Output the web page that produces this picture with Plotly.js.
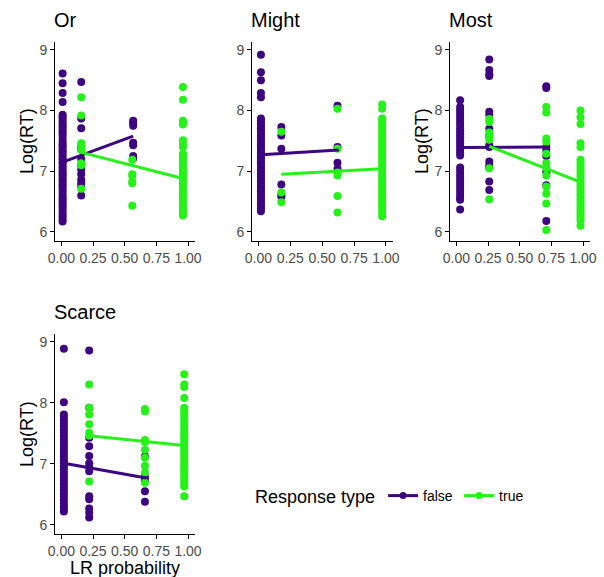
<!DOCTYPE html>
<html>
<head>
<meta charset="utf-8">
<script src="https://cdn.plot.ly/plotly-3.0.1.min.js"></script>
<style>html,body{margin:0;padding:0;background:#fff;}#chart{width:604px;height:577px;}</style>
</head>
<body>
<div id="chart"></div>
<script>
// ---------- data ----------
const panels = ["Or", "Might", "Most", "Scarce"];
const xTickVals = [0, 0.25, 0.5, 0.75, 1];
const xTickText = ["0.00", "0.25", "0.50", "0.75", "1.00"];
const yTickVals = [6, 7, 8, 9];
const responseTypes = ["false", "true"];

// Or
const or_false_x = [0.01, 0.157, 0.567];
const or_false_y = [
  [8.61, 8.45, 8.29, 8.14, 7.93, 7.9, 7.86, 7.82, 7.78, 7.74, 7.7, 7.66, 7.62, 7.58, 7.53, 7.48, 7.44, 7.41, 7.37, 7.33, 7.3, 7.26, 7.22, 7.19, 7.15, 7.12, 7.08, 7.04, 7.0, 6.96, 6.93, 6.89, 6.85, 6.81, 6.77, 6.73, 6.69, 6.65, 6.6, 6.56, 6.52, 6.48, 6.44, 6.4, 6.35, 6.3, 6.26, 6.21, 6.17],
  [8.47, 7.87, 7.71, 7.41, 7.36, 7.2, 7.1, 7.03, 6.95, 6.86, 6.8, 6.75, 6.6],
  [7.83, 7.79, 7.75, 7.47, 7.43, 7.25, 7.21]
];
const or_true_x = [0.157, 0.56, 0.96];
const or_true_y = [
  [8.22, 7.92, 7.46, 7.42, 7.35, 7.13, 7.1, 6.71],
  [7.19, 6.95, 6.92, 6.83, 6.8, 6.43],
  [8.39, 8.18, 7.83, 7.8, 7.77, 7.51, 7.45, 7.4, 7.29, 7.24, 7.2, 7.15, 7.1, 7.05, 7.0, 6.95, 6.9, 6.85, 6.8, 6.75, 6.7, 6.65, 6.6, 6.55, 6.5, 6.45, 6.4, 6.36, 6.32, 6.27]
];
const or_fit_false_x = [0.01, 0.567], or_fit_false_y = [7.15, 7.58];
const or_fit_true_x = [0.157, 0.96], or_fit_true_y = [7.31, 6.88];

// Might
const might_false_x = [0.02, 0.18, 0.62];
const might_false_y = [
  [8.92, 8.63, 8.5, 8.29, 8.22, 7.87, 7.83, 7.79, 7.75, 7.71, 7.67, 7.63, 7.59, 7.55, 7.51, 7.47, 7.43, 7.39, 7.35, 7.31, 7.27, 7.23, 7.19, 7.15, 7.11, 7.07, 7.03, 6.99, 6.95, 6.91, 6.87, 6.83, 6.79, 6.75, 6.71, 6.67, 6.63, 6.59, 6.55, 6.51, 6.47, 6.43, 6.39, 6.34],
  [7.73, 7.59, 7.37, 6.78, 6.61, 6.58],
  [8.08, 7.4, 7.14, 7.04, 6.99]
];
const might_true_x = [0.18, 0.62, 0.97];
const might_true_y = [
  [7.65, 6.65, 6.49],
  [8.03, 7.37, 6.98, 6.93, 6.59, 6.32],
  [8.1, 8.03, 7.87, 7.82, 7.77, 7.72, 7.67, 7.62, 7.57, 7.52, 7.47, 7.42, 7.37, 7.32, 7.27, 7.22, 7.17, 7.12, 7.07, 7.02, 6.97, 6.92, 6.87, 6.82, 6.77, 6.72, 6.67, 6.62, 6.57, 6.52, 6.47, 6.42, 6.37, 6.32, 6.26]
];
const might_fit_false_x = [0.02, 0.63], might_fit_false_y = [7.27, 7.35];
const might_fit_true_x = [0.18, 0.97], might_fit_true_y = [6.95, 7.04];

// Most
const most_false_x = [0.03, 0.26, 0.71];
const most_false_y = [
  [8.17, 8.06, 8.01, 7.96, 7.91, 7.86, 7.81, 7.76, 7.71, 7.66, 7.61, 7.56, 7.51, 7.46, 7.41, 7.36, 7.31, 7.26, 7.06, 7.01, 6.96, 6.91, 6.86, 6.81, 6.76, 6.71, 6.66, 6.61, 6.56, 6.53, 6.37],
  [8.84, 8.67, 8.6, 8.57, 7.98, 7.93, 7.7, 7.58, 7.43, 7.4, 7.16, 7.1, 7.06, 6.83, 6.69],
  [8.4, 8.37, 7.4, 7.35, 7.25, 6.99, 6.77, 6.18]
];
const most_true_x = [0.26, 0.71, 0.98];
const most_true_y = [
  [7.86, 7.81, 7.64, 7.59, 7.52, 7.05, 6.54],
  [8.06, 7.97, 7.54, 7.48, 7.29, 7.13, 7.05, 6.93, 6.75, 6.63, 6.47, 6.03],
  [8.0, 7.89, 7.78, 7.46, 7.4, 7.19, 7.14, 7.09, 7.04, 6.99, 6.94, 6.89, 6.84, 6.79, 6.74, 6.69, 6.64, 6.59, 6.54, 6.49, 6.44, 6.39, 6.34, 6.29, 6.24, 6.19, 6.1]
];
const most_fit_false_x = [0.03, 0.72], most_fit_false_y = [7.39, 7.40];
const most_fit_true_x = [0.26, 0.98], most_fit_true_y = [7.41, 6.82];

// Scarce
const scarce_false_x = [0.02, 0.22, 0.66];
const scarce_false_y = [
  [8.89, 8.01, 7.81, 7.76, 7.71, 7.66, 7.61, 7.56, 7.51, 7.46, 7.41, 7.36, 7.31, 7.26, 7.21, 7.16, 7.11, 7.06, 7.01, 6.96, 6.91, 6.86, 6.81, 6.76, 6.71, 6.66, 6.61, 6.56, 6.51, 6.46, 6.41, 6.36, 6.31, 6.26, 6.22],
  [8.86, 7.92, 7.43, 7.29, 7.13, 7.01, 6.95, 6.88, 6.47, 6.42, 6.27, 6.2, 6.12],
  [7.12, 6.79, 6.73, 6.55, 6.38]
];
const scarce_true_x = [0.22, 0.66, 0.97];
const scarce_true_y = [
  [8.3, 7.92, 7.81, 7.65, 7.51, 7.46, 6.71],
  [7.9, 7.86, 7.39, 7.36, 7.23, 7.1, 6.97, 6.86, 6.69],
  [8.47, 8.3, 8.26, 8.08, 7.92, 7.87, 7.82, 7.77, 7.72, 7.67, 7.62, 7.57, 7.52, 7.47, 7.42, 7.37, 7.32, 7.27, 7.22, 7.17, 7.12, 7.07, 7.02, 6.97, 6.92, 6.87, 6.82, 6.77, 6.72, 6.67, 6.63, 6.47]
];
const scarce_fit_false_x = [0.02, 0.67], scarce_fit_false_y = [7.01, 6.77];
const scarce_fit_true_x = [0.22, 0.97], scarce_fit_true_y = [7.46, 7.3];

// ---------- styling ----------
const COLORS = {"false": "#3E0580", "true": "#26F21A"};
const FONT = "Liberation Sans, Arial, sans-serif";

const panelData = [
  {fx: or_false_x, fy: or_false_y, tx: or_true_x, ty: or_true_y, lf: [or_fit_false_x, or_fit_false_y], lt: [or_fit_true_x, or_fit_true_y]},
  {fx: might_false_x, fy: might_false_y, tx: might_true_x, ty: might_true_y, lf: [might_fit_false_x, might_fit_false_y], lt: [might_fit_true_x, might_fit_true_y]},
  {fx: most_false_x, fy: most_false_y, tx: most_true_x, ty: most_true_y, lf: [most_fit_false_x, most_fit_false_y], lt: [most_fit_true_x, most_fit_true_y]},
  {fx: scarce_false_x, fy: scarce_false_y, tx: scarce_true_x, ty: scarce_true_y, lf: [scarce_fit_false_x, scarce_fit_false_y], lt: [scarce_fit_true_x, scarce_fit_true_y]}
];

function flatten(xs, ys) {
  const X = [], Y = [];
  xs.forEach((x, i) => ys[i].forEach(y => { X.push(x); Y.push(y); }));
  return {X, Y};
}

const W = 604, H = 577;
// pixel boxes of the panels [left, right, top, bottom]
const boxes = [[55, 195, 42, 241], [252, 393, 42, 241], [450, 590, 42, 241], [55, 195, 334, 534]];

const traces = [];
panelData.forEach((p, i) => {
  const sfx = i === 0 ? "" : String(i + 1);
  const xa = "x" + sfx, ya = "y" + sfx;
  const f = flatten(p.fx, p.fy), t = flatten(p.tx, p.ty);
  traces.push({x: f.X, y: f.Y, xaxis: xa, yaxis: ya, type: "scatter", mode: "markers",
    marker: {color: COLORS["false"], size: 8}, showlegend: false, hoverinfo: "skip"});
  traces.push({x: t.X, y: t.Y, xaxis: xa, yaxis: ya, type: "scatter", mode: "markers",
    marker: {color: COLORS["true"], size: 8}, showlegend: false, hoverinfo: "skip"});
  traces.push({x: p.lf[0], y: p.lf[1], xaxis: xa, yaxis: ya, type: "scatter", mode: "lines",
    line: {color: COLORS["false"], width: 3}, showlegend: false, hoverinfo: "skip"});
  traces.push({x: p.lt[0], y: p.lt[1], xaxis: xa, yaxis: ya, type: "scatter", mode: "lines",
    line: {color: COLORS["true"], width: 3}, showlegend: false, hoverinfo: "skip"});
});
// legend entries
responseTypes.forEach(r => {
  traces.push({x: [null], y: [null], type: "scatter", mode: "lines+markers", name: r,
    line: {color: COLORS[r], width: 3}, marker: {color: COLORS[r], size: 7}, showlegend: true});
});

const layout = {
  width: W, height: H,
  margin: {l: 0, r: 0, t: 0, b: 0, autoexpand: false},
  paper_bgcolor: "#fff", plot_bgcolor: "#fff",
  font: {family: FONT, size: 14, color: "#4D4D4D"},
  showlegend: true,
  legend: {
    orientation: "h", x: 253 / W, xanchor: "left", y: 1 - 497 / H, yanchor: "middle",
    title: {text: "Response type", font: {size: 18, color: "#000"}, side: "left"},
    font: {size: 14, color: "#000"}, itemwidth: 30, entrywidth: 31, entrywidthmode: "pixels",
    bgcolor: "rgba(0,0,0,0)"
  },
  annotations: [],
  shapes: []
};

boxes.forEach((b, i) => {
  const sfx = i === 0 ? "" : String(i + 1);
  const ya = "y" + sfx, xa = "x" + sfx;
  layout["xaxis" + sfx] = {
    domain: [b[0] / W, b[1] / W], anchor: ya, range: [-0.05, 1.055], tickangle: 0, automargin: false,
    tickvals: xTickVals, ticktext: xTickText, ticks: "outside", ticklen: 4, tickwidth: 1, tickcolor: "#000",
    showline: true, linecolor: "#000", linewidth: 1, showgrid: false, zeroline: false,
    tickfont: {size: 14, color: "#4D4D4D"}, fixedrange: true
  };
  layout["yaxis" + sfx] = {
    domain: [1 - b[3] / H, 1 - b[2] / H], anchor: xa, range: [5.85, 9.13], automargin: false,
    tickvals: yTickVals, ticks: "outside", ticklen: 4, tickwidth: 1, tickcolor: "#000",
    showline: true, linecolor: "#000", linewidth: 1, showgrid: false, zeroline: false,
    tickfont: {size: 14, color: "#4D4D4D"}, fixedrange: true
  };
  // panel title
  layout.annotations.push({text: panels[i], xref: "paper", yref: "paper",
    x: (b[0] - 3) / W, y: 1 - (b[2] - 22) / H, xanchor: "left", yanchor: "middle", showarrow: false,
    font: {size: 20, color: "#000", family: FONT}});
});
// y-axis titles (panels Or, Most, Scarce)
[[27, 141], [422, 141], [27, 434]].forEach(p => {
  layout.annotations.push({text: "Log(RT)", xref: "paper", yref: "paper", x: p[0] / W, y: 1 - p[1] / H,
    xanchor: "center", yanchor: "middle", textangle: -90, showarrow: false,
    font: {size: 18, color: "#000", family: FONT}});
});
layout.annotations.push({text: "LR probability", xref: "paper", yref: "paper", x: 125 / W, y: 1 - 568 / H,
  xanchor: "center", yanchor: "middle", showarrow: false, font: {size: 18, color: "#000", family: FONT}});

Plotly.newPlot("chart", traces, layout, {staticPlot: true, displayModeBar: false});
</script>
</body>
</html>
